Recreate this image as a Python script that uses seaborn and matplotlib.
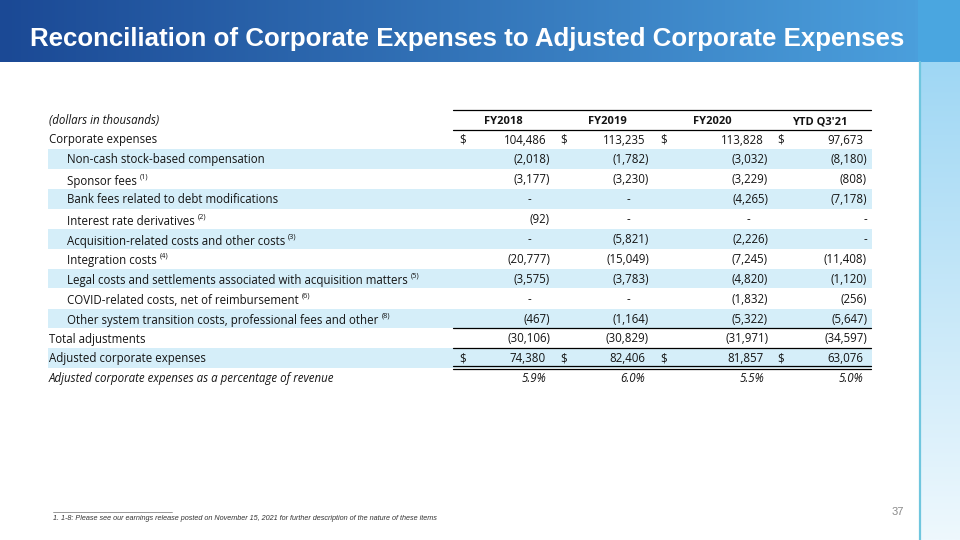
import numpy as np
import matplotlib
matplotlib.use('Agg')
import matplotlib.pyplot as plt
import matplotlib.colors as mcolors
import seaborn as sns

# ── Data ───────────────────────────────────────────────────────────────
years = ['FY2018', 'FY2019', 'FY2020', "YTD Q3'21"]

row_labels = [
    'Corporate expenses',
    'Non-cash stock-based compensation',
    'Sponsor fees',
    'Bank fees related to debt modifications',
    'Interest rate derivatives',
    'Acquisition-related costs and other costs',
    'Integration costs',
    'Legal costs and settlements associated with acquisition matters',
    'COVID-related costs, net of reimbursement',
    'Other system transition costs, professional fees and other',
    'Total adjustments',
    'Adjusted corporate expenses',
    'Adjusted corporate expenses as a percentage of revenue',
]
row_notes = ['', '', '(1)', '', '(2)', '(3)', '(4)', '(5)', '(6)', '(8)', '', '', '']
row_indent = [0, 1, 1, 1, 1, 1, 1, 1, 1, 1, 0, 0, 0]

fy2018 = [104486, -2018, -3177, None, -92, None, -20777, -3575, None, -467, -30106, 74380]
fy2019 = [113235, -1782, -3230, None, None, -5821, -15049, -3783, None, -1164, -30829, 82406]
fy2020 = [113828, -3032, -3229, -4265, None, -2226, -7245, -4820, -1832, -5322, -31971, 81857]
ytd_q3_21 = [97673, -8180, -808, -7178, None, None, -11408, -1120, -256, -5647, -34597, 63076]
pct_of_revenue = [5.9, 6.0, 5.5, 5.0]

footnote = ('1. 1-8: Please see our earnings release posted on November 15, 2021 '
            'for further description of the nature of these items')
title = 'Reconciliation of Corporate Expenses to Adjusted Corporate Expenses'
page_no = '37'

# ── Setup ──────────────────────────────────────────────────────────────
sns.set_theme(style='white')
plt.rcParams['font.family'] = ['Open Sans', 'DejaVu Sans']
ARIAL = ['Liberation Sans', 'DejaVu Sans']
INK = '#141414'

fig = plt.figure(figsize=(9.6, 5.4), dpi=100)
ax = fig.add_axes([0, 0, 1, 1])
ax.set_xlim(0, 960)
ax.set_ylim(540, 0)
ax.axis('off')

# header band gradient
c_left = np.array(mcolors.to_rgb('#1b4995'))
c_right = np.array(mcolors.to_rgb('#4b9fdc'))
t = np.linspace(0, 1, 300)[None, :, None]
grad = c_left + (c_right - c_left) * t
ax.imshow(grad, extent=(0, 918, 62, 0), aspect='auto', zorder=0)
ax.add_patch(plt.Rectangle((918, 0), 42, 62, color='#4aa6e0', lw=0, zorder=0))

# right side strip
c_top = np.array(mcolors.to_rgb('#9fd7f4'))
c_bot = np.array(mcolors.to_rgb('#eef8fd'))
tv = np.linspace(0, 1, 300)[:, None, None]
vgrad = c_top + (c_bot - c_top) * tv
ax.imshow(vgrad, extent=(920, 960, 540, 62), aspect='auto', zorder=0)
ax.plot([919.5, 919.5], [62, 540], color='#6fc6de', lw=1.6, zorder=1)

ax.text(30, 39, title, color='white', fontsize=18.6, fontweight='bold',
        family=ARIAL, va='center', ha='left', zorder=3)

# ── Table ──────────────────────────────────────────────────────────────
fs = 8.3
y0, dy = 139, 19.9
base = 4.5          # baseline offset below row centre
x_left = 49
x_indent = 67
band_x0, band_x1 = 48, 872
line_x0, line_x1 = 453, 871
band_color = '#d5eef9'

dollar_x = [463, 564, 664, 781]
right_x = [546, 645, 764, 863]
dash_x = [529, 628, 748, 865]
head_x = [503, 607, 712, 820]


def put(x, y, s, ha='left', **kw):
    return ax.text(x, y + base, s, fontsize=kw.pop('fontsize', fs), ha=ha,
                   va='baseline', color=INK, zorder=2, **kw)


put(x_left, 120, '(dollars in thousands)', style='italic')
for hx, yr in zip(head_x, years):
    put(hx, 120, yr, ha='center', fontweight='bold', fontsize=fs - 0.3)
ax.plot([line_x0, line_x1], [110, 110], color='black', lw=0.9)
ax.plot([line_x0, line_x1], [129.5, 129.5], color='black', lw=0.9)

cols = [fy2018, fy2019, fy2020, ytd_q3_21]
fig.canvas.draw()
renderer = fig.canvas.get_renderer()

for i, label in enumerate(row_labels):
    y = y0 + i * dy
    if i % 2 == 1:
        ax.add_patch(plt.Rectangle((band_x0, y - 9.5), band_x1 - band_x0, 19.5,
                                   color=band_color, lw=0, zorder=0.5))
    italic = (i == len(row_labels) - 1)
    lx = x_indent if row_indent[i] else x_left
    ly = y + (1.5 if row_notes[i] else 0)
    txt = put(lx, ly, label, style='italic' if italic else 'normal')
    if row_notes[i]:
        bb = txt.get_window_extent(renderer=renderer)
        put(bb.x1 + 3, ly - 6.5, row_notes[i], fontsize=5.4)

    for j, col in enumerate(cols):
        if italic:
            put(right_x[j], y, f'{pct_of_revenue[j]:.1f}%', ha='right', style='italic')
            continue
        v = col[i]
        if v is None:
            put(dash_x[j], y, '-', ha='center')
        elif v < 0:
            put(right_x[j] + 4, y, f'({-v:,})', ha='right')
        else:
            put(right_x[j], y, f'{v:,}', ha='right')
            put(dollar_x[j], y, '$', ha='center')

# rule lines under subtotal rows
y_other = y0 + 9 * dy + 9.5
y_total = y0 + 10 * dy + 9.5
y_adj = y0 + 11 * dy + 8.5
ax.plot([line_x0, line_x1], [y_other, y_other], color='black', lw=0.9)
ax.plot([line_x0, line_x1], [y_total, y_total], color='black', lw=0.9)
ax.plot([line_x0, line_x1], [y_adj, y_adj], color='black', lw=0.9)
ax.plot([line_x0, line_x1], [y_adj + 2.2, y_adj + 2.2], color='black', lw=0.9)

# ── Footer ─────────────────────────────────────────────────────────────
ax.plot([53, 172], [512, 512], color='#888888', lw=0.6)
ax.text(53, 518, footnote, fontsize=5.2, style='italic', ha='left', va='center',
        family=ARIAL, color='#333333')
ax.text(898, 512, page_no, fontsize=8, ha='center', va='center',
        family=ARIAL, color='#8a8a8a')

fig.savefig('out.png', dpi=100)
plt.close(fig)
